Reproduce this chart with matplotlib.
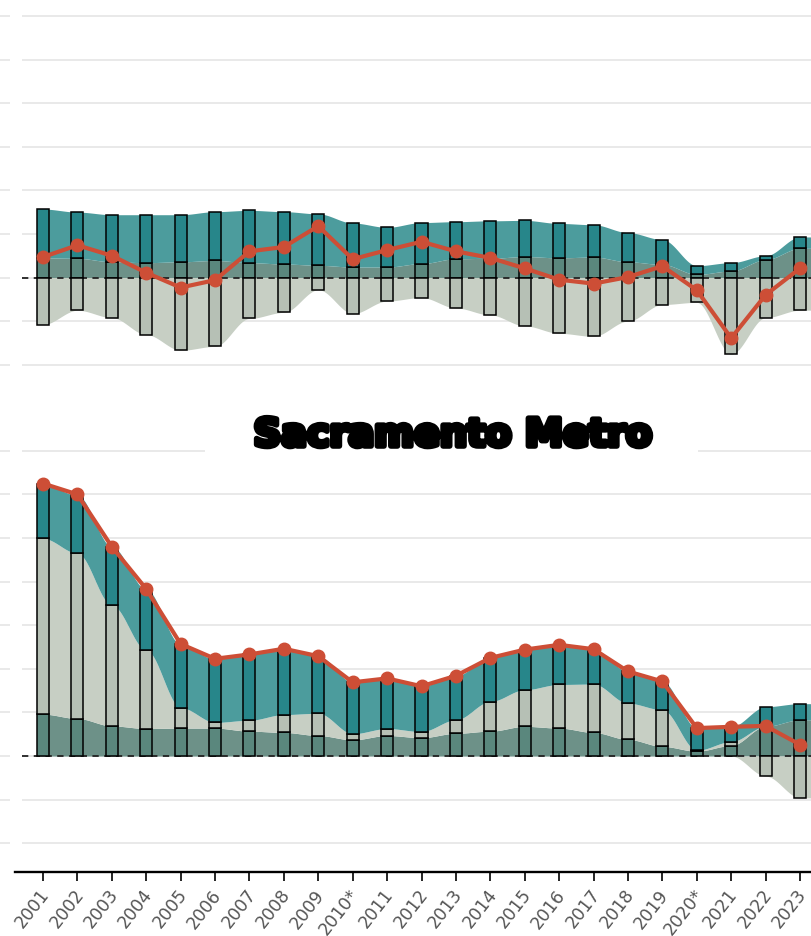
import numpy as np
import matplotlib
matplotlib.use("Agg")
import matplotlib.pyplot as plt
from matplotlib.patches import Rectangle
from matplotlib.transforms import ScaledTranslation
import matplotlib.patheffects as pe

# ---- data (units: one gridline step) ----
years = ['2001', '2002', '2003', '2004', '2005', '2006', '2007', '2008', '2009', '2010*',
         '2011', '2012', '2013', '2014', '2015', '2016', '2017', '2018', '2019', '2020*',
         '2021', '2022', '2023']

# upper panel components
upper_dark = [0.45, 0.44, 0.36, 0.34, 0.36, 0.39, 0.34, 0.31, 0.28, 0.24, 0.24, 0.32,
              0.43, 0.44, 0.48, 0.45, 0.47, 0.36, 0.30, 0.07, 0.15, 0.41, 0.67]
upper_light = [-1.08, -0.75, -0.92, -1.31, -1.67, -1.58, -0.94, -0.80, -0.28, -0.83, -0.54,
               -0.46, -0.70, -0.86, -1.11, -1.28, -1.35, -1.00, -0.62, -0.57, -1.76, -0.92, -0.75]
upper_teal = [1.12, 1.06, 1.08, 1.10, 1.08, 1.12, 1.20, 1.20, 1.18, 1.01, 0.91, 0.94,
              0.85, 0.86, 0.83, 0.79, 0.74, 0.67, 0.57, 0.20, 0.19, 0.09, 0.26]
upper_net = [0.47, 0.74, 0.50, 0.11, -0.23, -0.06, 0.60, 0.70, 1.18, 0.42, 0.63, 0.82,
             0.60, 0.45, 0.21, -0.05, -0.14, 0.01, 0.26, -0.29, -1.39, -0.40, 0.21]

# Sacramento Metro components
metro_dark = [0.96, 0.86, 0.69, 0.63, 0.64, 0.64, 0.57, 0.54, 0.47, 0.37, 0.47, 0.42,
              0.52, 0.57, 0.68, 0.64, 0.54, 0.38, 0.22, 0.11, 0.24, 0.68, 0.83]
metro_light = [4.03, 3.79, 2.77, 1.80, 0.47, 0.13, 0.25, 0.41, 0.51, 0.14, 0.16, 0.14,
               0.31, 0.68, 0.84, 1.00, 1.11, 0.83, 0.84, 0.02, 0.09, -0.46, -0.96]
metro_teal = [1.24, 1.33, 1.34, 1.39, 1.45, 1.45, 1.51, 1.51, 1.31, 1.18, 1.15, 1.04,
              1.01, 1.00, 0.92, 0.91, 0.80, 0.73, 0.65, 0.51, 0.34, 0.45, 0.37]
metro_net = [6.25, 6.00, 4.80, 3.83, 2.57, 2.23, 2.33, 2.46, 2.29, 1.69, 1.78, 1.60,
             1.84, 2.25, 2.44, 2.55, 2.45, 1.94, 1.71, 0.64, 0.67, 0.69, 0.26]

# ---- styling ----
DARK_BAR, DARK_AREA = '#5A877D', '#6D9188'
LIGHT_BAR, LIGHT_AREA = '#B6C0B5', '#C7CFC4'
TEAL_BAR, TEAL_AREA = '#27868A', '#4C9C9D'
NET_COLOR = '#CD4E36'
GRID = '#e3e3e3'

W, H = 811, 937
fig = plt.figure(figsize=(W / 100, H / 100), dpi=100)
fig.patch.set_facecolor('white')

X0_PX, STEP_PX = 43.0, (800.0 - 43.0) / 22
UNIT_PX = 43.6
BAR_W = 0.35


def axes_rect(left, top, right, bottom):
    return [left / W, 1 - bottom / H, (right - left) / W, (bottom - top) / H]


def smooth_curve(y, left_ext=BAR_W / 2, right_ext=0.61, n=40):
    y = np.asarray(y, float)
    xs, ys = [np.array([-left_ext])], [np.array([y[0]])]
    for i in range(len(y) - 1):
        t = np.linspace(0, 1, n, endpoint=False)
        s = t * t * (3 - 2 * t)
        xs.append(i + t)
        ys.append(y[i] + (y[i + 1] - y[i]) * s)
    xs.append(np.array([len(y) - 1, len(y) - 1 + right_ext]))
    ys.append(np.array([y[-1], y[-1]]))
    return np.concatenate(xs), np.concatenate(ys)


def draw_panel(ax, comps, net, zero_px, top_px, bottom_px, left_px=22, right_px=821):
    x = np.arange(len(years))

    # smoothed stacked areas (positive and negative parts stacked separately)
    pos = np.zeros(len(x))
    neg = np.zeros(len(x))
    for vals, area_col, _ in comps:
        v = np.asarray(vals, float)
        p, q = np.clip(v, 0, None), np.clip(v, None, 0)
        for lo, hi in ((pos, pos + p), (neg, neg + q)):
            xl, yl = smooth_curve(lo)
            _, yh = smooth_curve(hi)
            ax.fill_between(xl, yl, yh, color=area_col, lw=0, zorder=1)
        pos = pos + p
        neg = neg + q

    # stacked bars
    pos = np.zeros(len(x))
    neg = np.zeros(len(x))
    for vals, _, bar_col in comps:
        v = np.asarray(vals, float)
        base = np.where(v >= 0, pos, neg)
        ax.bar(x, v, bottom=base, width=BAR_W, color=bar_col, edgecolor='black',
               linewidth=1.1, zorder=3)
        pos = np.where(v >= 0, pos + v, pos)
        neg = np.where(v < 0, neg + v, neg)

    ax.axhline(0, color='#222222', lw=1.3, ls=(0, (3.5, 3)), zorder=2.5)
    ax.plot(x, net, color=NET_COLOR, lw=3.0, marker='o', ms=9, zorder=5,
            solid_capstyle='round')

    ymin = -(bottom_px - zero_px) / UNIT_PX
    ymax = (zero_px - top_px) / UNIT_PX
    ticks = np.arange(np.ceil(ymin), np.floor(ymax) + 1)
    ax.set_yticks(ticks)
    ax.set_xlim((left_px - X0_PX) / STEP_PX, (len(years) - 1) + (right_px - 800.0) / STEP_PX)
    ax.set_ylim(ymin, ymax)

    ax.yaxis.grid(True, color=GRID, lw=1.1)
    ax.set_axisbelow(True)
    ax.tick_params(axis='y', length=7.2, width=1.1, color=GRID, labelleft=False)
    ax.spines['left'].set_position(('outward', 8.6))
    for s in ('left', 'right', 'top'):
        ax.spines[s].set_visible(False)
    ax.set_facecolor('none')


# upper panel
ax1 = fig.add_axes(axes_rect(22, -30, 821, 378))
draw_panel(ax1, [(upper_dark, DARK_AREA, DARK_BAR),
                 (upper_light, LIGHT_AREA, LIGHT_BAR),
                 (upper_teal, TEAL_AREA, TEAL_BAR)],
           upper_net, zero_px=278.5, top_px=-30, bottom_px=378)
ax1.spines['bottom'].set_visible(False)
ax1.tick_params(axis='x', bottom=False, labelbottom=False)

# Sacramento Metro panel
ax2 = fig.add_axes(axes_rect(22, 440, 821, 873))
draw_panel(ax2, [(metro_dark, DARK_AREA, DARK_BAR),
                 (metro_light, LIGHT_AREA, LIGHT_BAR),
                 (metro_teal, TEAL_AREA, TEAL_BAR)],
           metro_net, zero_px=757, top_px=440, bottom_px=873)
ax2.spines['bottom'].set_color('black')
ax2.spines['bottom'].set_linewidth(1.7)
ax2.spines['bottom'].set_zorder(6)
ax2.spines['bottom'].set_bounds((15 - X0_PX) / STEP_PX, (len(years) - 1) + (821 - 800.0) / STEP_PX)
ax2.set_xticks(np.arange(len(years)))
ax2.set_xticklabels(years, rotation=52, ha='right', va='top', rotation_mode='anchor',
                    color='#555555', fontsize=12.5)
ax2.tick_params(axis='x', length=6.5, width=1.2, color='black', pad=3)
ax2.set_xlim((22 - X0_PX) / STEP_PX, (len(years) - 1) + (821 - 800.0) / STEP_PX)
shift = ScaledTranslation(-0.04, 0, fig.dpi_scale_trans)
for lab in ax2.get_xticklabels():
    lab.set_transform(lab.get_transform() + shift)

# title with white backing
fig.patches.append(Rectangle((205 / W, 1 - 468 / H), (698 - 205) / W, (468 - 405) / H,
                             transform=fig.transFigure, facecolor='white',
                             edgecolor='none', zorder=2))
fig.text(453 / W, 1 - 437 / H, 'Sacramento Metro', ha='center', va='center',
         fontsize=27.5, fontweight='bold', family='DejaVu Sans', color='black',
         path_effects=[pe.withStroke(linewidth=4, foreground='black')], zorder=3)

fig.savefig('out.png', dpi=100, facecolor='white')
